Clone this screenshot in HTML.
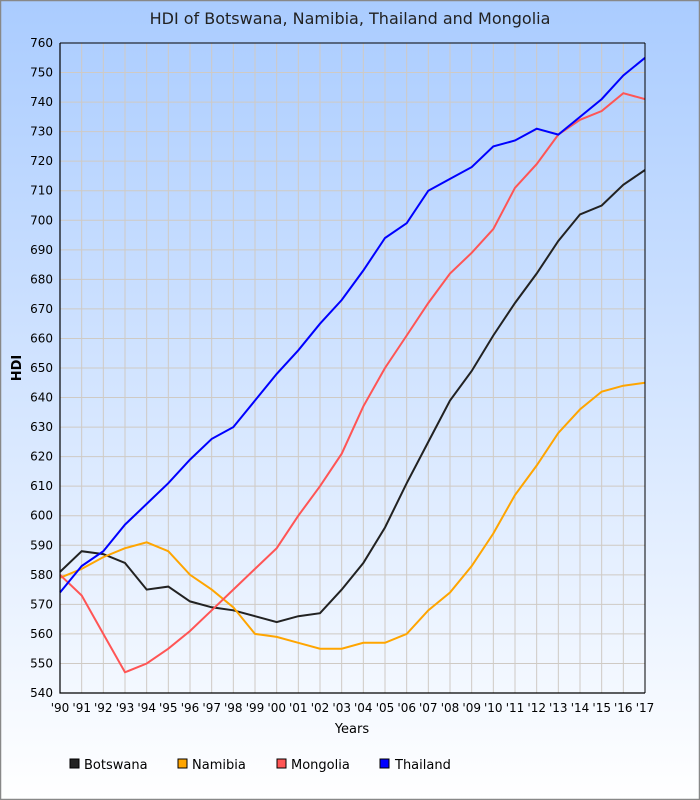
<!DOCTYPE html>
<html><head><meta charset="utf-8"><style>
html,body{margin:0;padding:0;}
body{width:700px;height:800px;overflow:hidden;}
svg{display:block;font-family:"DejaVu Sans","Liberation Sans",sans-serif;}
</style></head><body>
<svg width="700" height="800" viewBox="0 0 700 800" xmlns="http://www.w3.org/2000/svg">
<defs><linearGradient id="bg" x1="0" y1="0" x2="0" y2="1"><stop offset="0" stop-color="#aaccff"/><stop offset="1" stop-color="#ffffff"/></linearGradient></defs>
<rect x="0.5" y="0.5" width="699" height="799" fill="url(#bg)" stroke="#888" stroke-width="1.5"/>
<text x="350" y="24" text-anchor="middle" font-size="16" fill="#222" font-weight="500">HDI of Botswana, Namibia, Thailand and Mongolia</text>
<g id="grid" stroke="#cfcac4" stroke-width="1"></g>
<g id="lines" fill="none" stroke-width="2"></g>
<path d="M60,43 L60,693 L645,693" fill="none" stroke="#000" stroke-width="1.2"/>
<line x1="60" y1="43" x2="645" y2="43" stroke="#000" stroke-width="1"/>
<line x1="645" y1="43" x2="645" y2="693" stroke="#000" stroke-width="1"/>
<g font-size="12" fill="#000" text-anchor="end">
<text x="53" y="47">760</text><text x="53" y="76.5">750</text><text x="53" y="106.1">740</text><text x="53" y="135.6">730</text><text x="53" y="165.2">720</text><text x="53" y="194.7">710</text><text x="53" y="224.3">700</text><text x="53" y="253.8">690</text><text x="53" y="283.4">680</text><text x="53" y="312.9">670</text><text x="53" y="342.5">660</text><text x="53" y="372">650</text><text x="53" y="401.5">640</text><text x="53" y="431.1">630</text><text x="53" y="460.6">620</text><text x="53" y="490.2">610</text><text x="53" y="519.7">600</text><text x="53" y="549.3">590</text><text x="53" y="578.8">580</text><text x="53" y="608.4">570</text><text x="53" y="637.9">560</text><text x="53" y="667.5">550</text><text x="53" y="697">540</text>
</g>
<g font-size="12" fill="#000" text-anchor="middle">
<text x="60" y="712">'90</text><text x="81.7" y="712">'91</text><text x="103.3" y="712">'92</text><text x="125" y="712">'93</text><text x="146.7" y="712">'94</text><text x="168.3" y="712">'95</text><text x="190" y="712">'96</text><text x="211.7" y="712">'97</text><text x="233.3" y="712">'98</text><text x="255" y="712">'99</text><text x="276.7" y="712">'00</text><text x="298.3" y="712">'01</text><text x="320" y="712">'02</text><text x="341.7" y="712">'03</text><text x="363.3" y="712">'04</text><text x="385" y="712">'05</text><text x="406.7" y="712">'06</text><text x="428.3" y="712">'07</text><text x="450" y="712">'08</text><text x="471.7" y="712">'09</text><text x="493.3" y="712">'10</text><text x="515" y="712">'11</text><text x="536.7" y="712">'12</text><text x="558.3" y="712">'13</text><text x="580" y="712">'14</text><text x="601.7" y="712">'15</text><text x="623.3" y="712">'16</text><text x="645" y="712">'17</text>
</g>
<text x="352" y="733" text-anchor="middle" font-size="13" fill="#000">Years</text>
<text x="21" y="368" text-anchor="middle" font-size="13" fill="#000" font-weight="bold" transform="rotate(-90 21 368)">HDI</text>
<g font-size="13" fill="#000">
<rect x="70" y="759" width="9" height="9" fill="#222" stroke="#000"/><text x="84" y="769">Botswana</text>
<rect x="178" y="759" width="9" height="9" fill="#ffa500" stroke="#000"/><text x="192" y="769">Namibia</text>
<rect x="277" y="759" width="9" height="9" fill="#ff5555" stroke="#000"/><text x="291" y="769">Mongolia</text>
<rect x="380" y="759" width="9" height="9" fill="#0000ff" stroke="#000"/><text x="395" y="769">Thailand</text>
</g>
</svg>
<script>
var ns="http://www.w3.org/2000/svg";
function X(i){return 60+i*585/27;}
function Y(v){return 693-(v-540)*650/220;}
var g=document.getElementById('grid');
for(var i=1;i<27;i++){var l=document.createElementNS(ns,'line');l.setAttribute('x1',X(i));l.setAttribute('x2',X(i));l.setAttribute('y1',43);l.setAttribute('y2',693);g.appendChild(l);}
for(var v=550;v<760;v+=10){var l=document.createElementNS(ns,'line');l.setAttribute('x1',60);l.setAttribute('x2',645);l.setAttribute('y1',Y(v));l.setAttribute('y2',Y(v));g.appendChild(l);}
var data=[
["#222",[581,588,587,584,575,576,571,569,568,566,564,566,567,575,584,596,611,625,639,649,661,672,682,693,702,705,712,717]],
["#ffa500",[579,582,586,589,591,588,580,575,569,560,559,557,555,555,557,557,560,568,574,583,594,607,617,628,636,642,644,645]],
["#ff5555",[580,573,560,547,550,555,561,568,575,582,589,600,610,621,637,650,661,672,682,689,697,711,719,729,734,737,743,741]],
["#0000ff",[574,583,588,597,604,611,619,626,630,639,648,656,665,673,683,694,699,710,714,718,725,727,731,729,735,741,749,755]]];
var lg=document.getElementById('lines');
data.forEach(function(d){var p=document.createElementNS(ns,'polyline');p.setAttribute('points',d[1].map(function(v,i){return X(i).toFixed(1)+','+Y(v).toFixed(1);}).join(' '));p.setAttribute('stroke',d[0]);lg.appendChild(p);});
</script>
</body></html>
